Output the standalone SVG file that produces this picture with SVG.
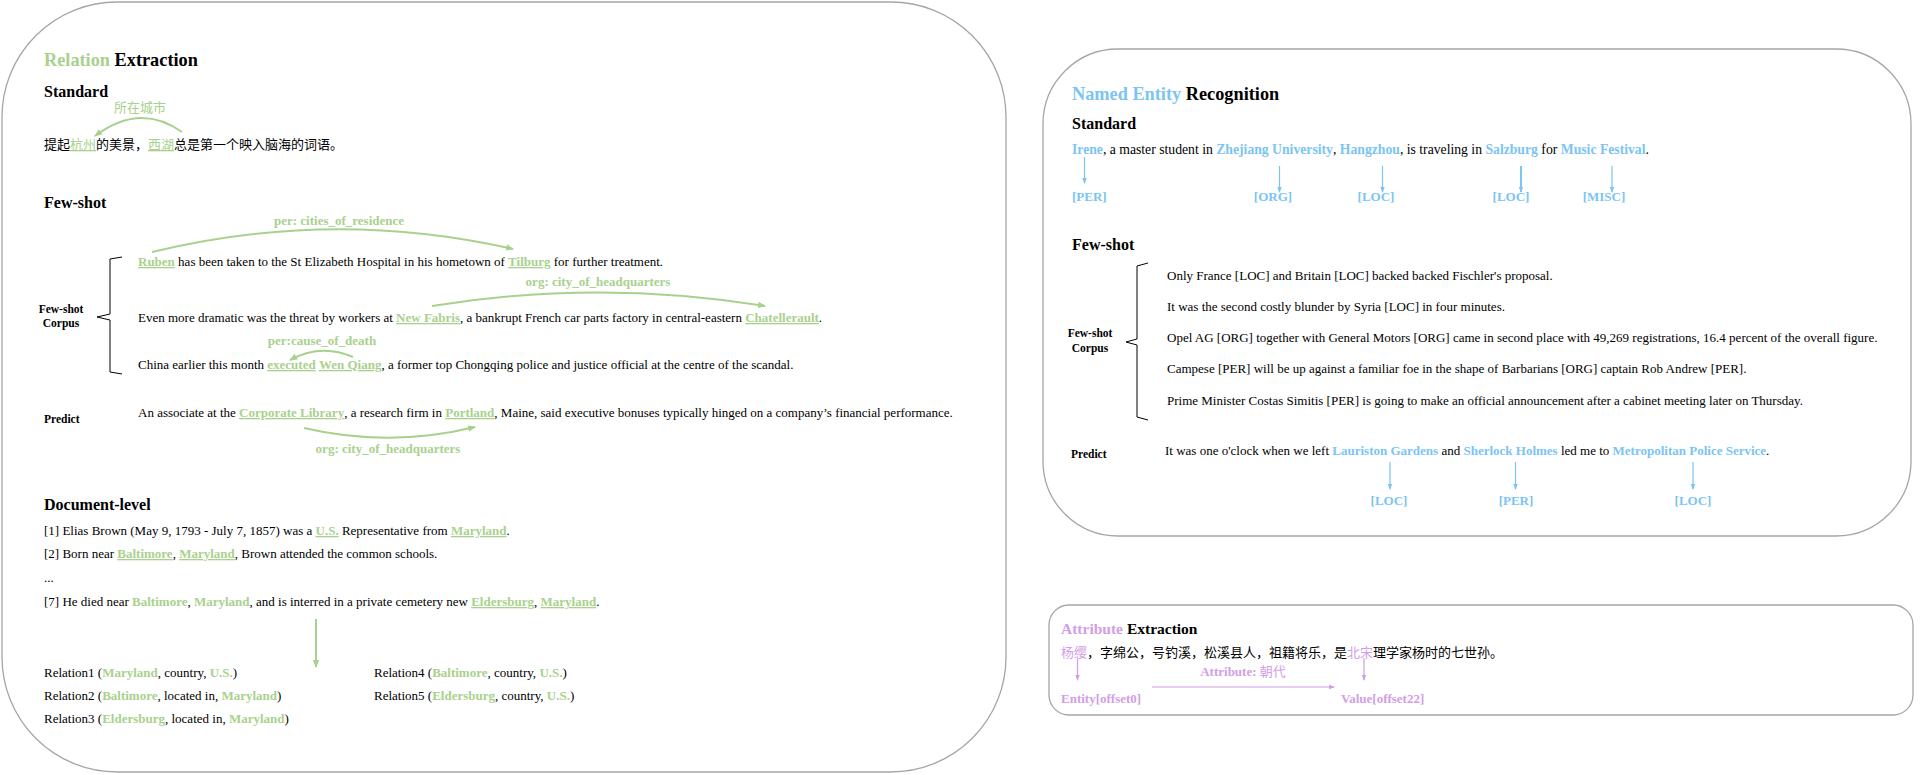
<svg xmlns="http://www.w3.org/2000/svg" width="1920" height="775" viewBox="0 0 1920 775">
<defs>
<marker id="ag" markerUnits="userSpaceOnUse" markerWidth="8" markerHeight="8" refX="7" refY="4" orient="auto"><path d="M0,0.8 L8,4 L0,7.2 Z" fill="#a9d18e"/></marker>
<marker id="ab" markerUnits="userSpaceOnUse" markerWidth="6" markerHeight="6" refX="5" refY="3" orient="auto"><path d="M0,0.8 L6,3 L0,5.2 Z" fill="#7cc4f4"/></marker>
<marker id="ap" markerUnits="userSpaceOnUse" markerWidth="6" markerHeight="6" refX="5" refY="3" orient="auto"><path d="M0,0.8 L6,3 L0,5.2 Z" fill="#d29ee6"/></marker>
</defs>
<style>
text{font-family:"Liberation Serif","Times New Roman",serif;font-size:13px;fill:#000}
.h1{font-size:18.3px;font-weight:bold}
.h2{font-size:16px;font-weight:bold}
.sm{font-size:11.5px;font-weight:bold}
.g{fill:#a9d18e;font-weight:bold}
.bl{fill:#7cc4f4;font-weight:bold}
.p{fill:#d29ee6;font-weight:bold}
.cjk{font-family:"Liberation Serif","Noto Sans CJK SC",serif}
.panel{fill:#fff;stroke:#a6a6a6;stroke-width:1.3}
.lg{fill:none;stroke:#a9d18e;stroke-width:2}
.lb{fill:none;stroke:#7cc4f4;stroke-width:1.2}
.lp{fill:none;stroke:#d29ee6;stroke-width:1.2}
</style>

<g id="panel-relation">
<rect class="panel" x="2" y="2" width="1004" height="770" rx="115" ry="115"/>
<text x="44" y="66" class="h1"><tspan fill="#a9d18e">Relation</tspan> Extraction</text>
<text x="44" y="97" class="h2">Standard</text>
<text x="140" y="112" text-anchor="middle" class="cjk" fill="#a9d18e" style="fill:#a9d18e">所在城市</text>
<text x="44" y="149" class="cjk">提起<tspan style="fill:#a9d18e" text-decoration="underline">杭州</tspan>的美景，<tspan style="fill:#a9d18e" text-decoration="underline">西湖</tspan>总是第一个映入脑海的词语。</text>

<text x="44" y="208" class="h2">Few-shot</text>
<text x="339" y="225" text-anchor="middle" class="g">per: cities_of_residence</text>
<text x="61" y="313" text-anchor="middle" class="sm">Few-shot</text>
<text x="61" y="327" text-anchor="middle" class="sm">Corpus</text>
<path d="M122,257 L110,259 L110,314 L97,317 L110,320 L110,372 L122,374" fill="none" stroke="#000" stroke-width="1"/>
<text x="138" y="266"><tspan class="g" text-decoration="underline">Ruben</tspan> has been taken to the St Elizabeth Hospital in his hometown of <tspan class="g" text-decoration="underline">Tilburg</tspan> for further treatment.</text>
<text x="598" y="286" text-anchor="middle" class="g">org: city_of_headquarters</text>
<text x="138" y="322">Even more dramatic was the threat by workers at <tspan class="g" text-decoration="underline">New Fabris</tspan>, a bankrupt French car parts factory in central-eastern <tspan class="g" text-decoration="underline">Chatellerault</tspan>.</text>
<text x="322" y="345" text-anchor="middle" class="g">per:cause_of_death</text>
<text x="138" y="369">China earlier this month <tspan class="g" text-decoration="underline">executed</tspan> <tspan class="g" text-decoration="underline">Wen Qiang</tspan>, a former top Chongqing police and justice official at the centre of the scandal.</text>

<text x="44" y="423" class="sm">Predict</text>
<text x="138" y="417">An associate at the <tspan class="g" text-decoration="underline">Corporate Library</tspan>, a research firm in <tspan class="g" text-decoration="underline">Portland</tspan>, Maine, said executive bonuses typically hinged on a company’s financial performance.</text>
<text x="388" y="453" text-anchor="middle" class="g">org: city_of_headquarters</text>

<text x="44" y="510" class="h2">Document-level</text>
<text x="44" y="535">[1] Elias Brown (May 9, 1793 - July 7, 1857) was a <tspan class="g" text-decoration="underline">U.S.</tspan> Representative from <tspan class="g" text-decoration="underline">Maryland</tspan>.</text>
<text x="44" y="558">[2] Born near <tspan class="g" text-decoration="underline">Baltimore</tspan>, <tspan class="g" text-decoration="underline">Maryland</tspan>, Brown attended the common schools.</text>
<text x="44" y="582">...</text>
<text x="44" y="606">[7] He died near <tspan class="g">Baltimore</tspan>, <tspan class="g">Maryland</tspan>, and is interred in a private cemetery new <tspan class="g" text-decoration="underline">Eldersburg</tspan>, <tspan class="g" text-decoration="underline">Maryland</tspan>.</text>
<text x="44" y="677">Relation1 (<tspan class="g">Maryland</tspan>, country, <tspan class="g">U.S.</tspan>)</text>
<text x="44" y="700">Relation2 (<tspan class="g">Baltimore</tspan>, located in, <tspan class="g">Maryland</tspan>)</text>
<text x="44" y="723">Relation3 (<tspan class="g">Eldersburg</tspan>, located in, <tspan class="g">Maryland</tspan>)</text>
<text x="374" y="677">Relation4 (<tspan class="g">Baltimore</tspan>, country, <tspan class="g">U.S.</tspan>)</text>
<text x="374" y="700">Relation5 (<tspan class="g">Eldersburg</tspan>, country, <tspan class="g">U.S.</tspan>)</text>
</g>

<g id="panel-ner">
<rect class="panel" x="1043" y="49" width="868" height="487" rx="75" ry="75"/>
<text x="1072" y="100" class="h1"><tspan fill="#7cc4f4" style="fill:#7cc4f4">Named Entity</tspan> Recognition</text>
<text x="1072" y="129" class="h2">Standard</text>
<text x="1072" y="154" style="font-size:13.7px"><tspan class="bl">Irene</tspan>, a master student in <tspan class="bl">Zhejiang University</tspan>, <tspan class="bl">Hangzhou</tspan>, is traveling in <tspan class="bl">Salzburg</tspan> for <tspan class="bl">Music Festival</tspan>.</text>
<text x="1072" y="201" class="bl">[PER]</text>
<text x="1273" y="201" text-anchor="middle" class="bl">[ORG]</text>
<text x="1376" y="201" text-anchor="middle" class="bl">[LOC]</text>
<text x="1511" y="201" text-anchor="middle" class="bl">[LOC]</text>
<text x="1604" y="201" text-anchor="middle" class="bl">[MISC]</text>

<text x="1072" y="250" class="h2">Few-shot</text>
<text x="1090" y="337" text-anchor="middle" class="sm">Few-shot</text>
<text x="1090" y="352" text-anchor="middle" class="sm">Corpus</text>
<path d="M1148,263 L1137,266 L1137,339 L1126,342 L1137,345 L1137,417 L1148,420" fill="none" stroke="#000" stroke-width="1"/>
<text x="1167" y="280">Only France [LOC] and Britain [LOC] backed backed Fischler's proposal.</text>
<text x="1167" y="311">It was the second costly blunder by Syria [LOC] in four minutes.</text>
<text x="1167" y="342">Opel AG [ORG] together with General Motors [ORG] came in second place with 49,269 registrations, 16.4 percent of the overall figure.</text>
<text x="1167" y="373">Campese [PER] will be up against a familiar foe in the shape of Barbarians [ORG] captain Rob Andrew [PER].</text>
<text x="1167" y="405">Prime Minister Costas Simitis [PER] is going to make an official announcement after a cabinet meeting later on Thursday.</text>

<text x="1071" y="458" class="sm">Predict</text>
<text x="1165" y="455">It was one o'clock when we left <tspan class="bl">Lauriston Gardens</tspan> and <tspan class="bl">Sherlock Holmes</tspan> led me to <tspan class="bl">Metropolitan Police Service</tspan>.</text>
<text x="1389" y="505" text-anchor="middle" class="bl">[LOC]</text>
<text x="1516" y="505" text-anchor="middle" class="bl">[PER]</text>
<text x="1693" y="505" text-anchor="middle" class="bl">[LOC]</text>
</g>

<g id="panel-attribute">
<rect class="panel" x="1049" y="605" width="864" height="110" rx="20" ry="20"/>
<text x="1061" y="634" style="font-size:15.5px;font-weight:bold"><tspan fill="#d29ee6" style="fill:#d29ee6">Attribute</tspan> Extraction</text>
<text x="1061" y="657" class="cjk"><tspan style="fill:#d29ee6">杨缨</tspan>，字绵公，号钓溪，松溪县人，祖籍将乐，是<tspan style="fill:#d29ee6">北宋</tspan>理学家杨时的七世孙。</text>
<text x="1243" y="676" text-anchor="middle" class="p">Attribute: <tspan class="cjk" style="font-weight:normal">朝代</tspan></text>
<text x="1061" y="703" class="p">Entity[offset0]</text>
<text x="1341" y="703" class="p">Value[offset22]</text>
</g>

<g id="connectors">
<path class="lg" d="M182,132 Q140,102 95,136" marker-end="url(#ag)"/>
<path class="lg" d="M152,252 Q333,208 513,249" marker-end="url(#ag)"/>
<path class="lg" d="M432,306 Q598,279 765,306" marker-end="url(#ag)"/>
<path class="lg" d="M353,357 Q321,343 290,360" marker-end="url(#ag)"/>
<path class="lg" d="M304,428 Q390,448 475,427" marker-end="url(#ag)"/>
<path class="lg" d="M316,619 L316,667" marker-end="url(#ag)"/>

<path class="lb" d="M1084.5,157 L1084.5,183" marker-end="url(#ab)"/>
<path class="lb" d="M1279.5,166 L1279.5,192" marker-end="url(#ab)"/>
<path class="lb" d="M1382.5,166 L1382.5,192" marker-end="url(#ab)"/>
<path class="lb" d="M1521,166 L1521,192" marker-end="url(#ab)" style="stroke-width:2"/>
<path class="lb" d="M1612,166 L1612,192" marker-end="url(#ab)"/>
<path class="lb" d="M1390,462 L1390,489" marker-end="url(#ab)"/>
<path class="lb" d="M1515.5,462 L1515.5,489" marker-end="url(#ab)"/>
<path class="lb" d="M1693,462 L1693,489" marker-end="url(#ab)"/>

<path class="lp" d="M1077.5,658 L1077.5,680" marker-end="url(#ap)"/>
<path class="lp" d="M1364,658 L1364,680" marker-end="url(#ap)"/>
<path class="lp" d="M1152,687 L1334,687" marker-end="url(#ap)"/>
</g>
</svg>
